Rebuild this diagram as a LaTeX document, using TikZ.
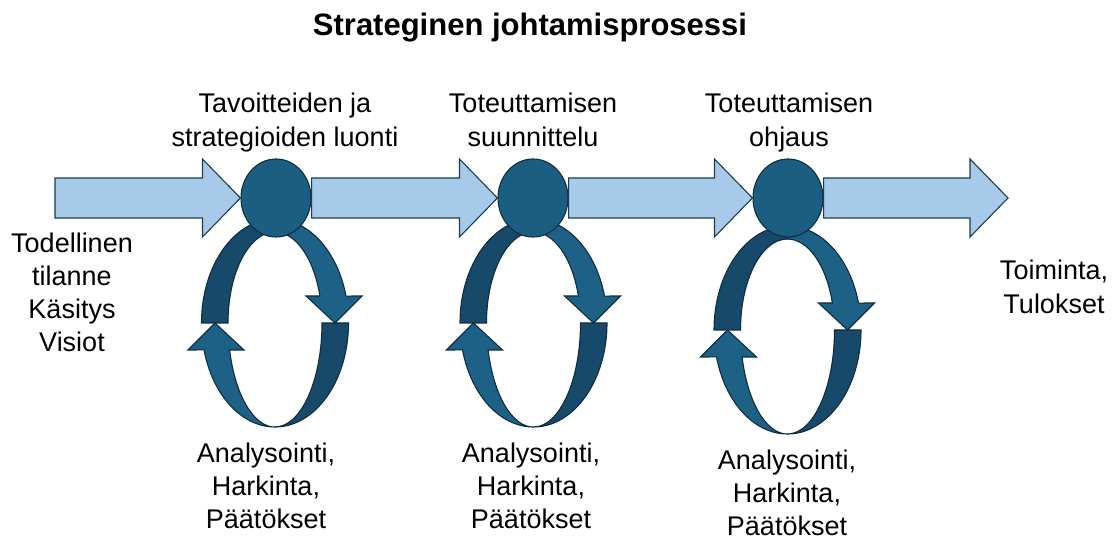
\documentclass[tikz,border=0pt]{standalone}
\usepackage{fontspec}
\setmainfont{Liberation Sans}
\usetikzlibrary{shapes.geometric,calc}

\definecolor{hubblue}{HTML}{1C5E82}
\definecolor{ringlight}{HTML}{1E6187}
\definecolor{ringdark}{HTML}{17496A}
\definecolor{ringline}{HTML}{0E2D42}
\definecolor{flowfill}{HTML}{A7CAE9}
\definecolor{flowline}{HTML}{1B3C57}

% wide arrow from one point to the tip at another (same height)
\newcommand\flowarrow[2]{%
  \path[flow] let \p1=(#1), \p2=(#2) in
    (\x1,\y1-20pt) -- (\x2-38pt,\y1-20pt) -- (\x2-38pt,\y1-39pt)
    -- (\x2,\y1) -- (\x2-38pt,\y1+39pt) -- (\x2-38pt,\y1+20pt)
    -- (\x1,\y1+20pt) -- cycle;}

\begin{document}
\begin{tikzpicture}[x=1pt,y=1pt,
    flow/.style={fill=flowfill,draw=flowline,line width=1.1pt,line join=miter},
    ring/.style={draw=ringline,line width=1.1pt,line join=miter},
    hub/.style={ellipse,fill=hubblue,draw=ringline,line width=1.1pt,
      minimum width=70pt,minimum height=78pt,inner sep=0pt},
    txt/.style={font=\fontsize{27}{33}\selectfont,align=center,
      inner sep=0pt,anchor=north}]
    \useasboundingbox (0,0) rectangle (1113,540);

    % the three feedback loops
    \foreach \cx/\cy in {275/217, 533.5/217, 787.5/210} {
        \path[ring,fill=ringdark] (\cx,\cy+104)
            arc[start angle=90,end angle=180,x radius=73.5pt,y radius=104pt]
            -- (\cx-47,\cy)
            arc[start angle=180,end angle=90,x radius=47pt,y radius=91pt] -- cycle;
        \path[ring,fill=ringdark] (\cx+73.5,\cy)
            arc[start angle=0,end angle=-90,x radius=73.5pt,y radius=104pt]
            arc[start angle=-90,end angle=0,x radius=47pt,y radius=104pt] -- cycle;
        \path[ring,fill=ringlight] (\cx,\cy+104)
            arc[start angle=90,end angle=15,x radius=73.5pt,y radius=104pt]
            -- (\cx+87,\cy+27) -- (\cx+60,\cy) -- (\cx+31,\cy+27) -- (\cx+44.9,\cy+27)
            arc[start angle=17.3,end angle=90,x radius=47pt,y radius=91pt] -- cycle;
        \path[ring,fill=ringlight] (\cx,\cy-104)
            arc[start angle=270,end angle=195,x radius=73.5pt,y radius=104pt]
            -- (\cx-87,\cy-27) -- (\cx-60,\cy) -- (\cx-31,\cy-27) -- (\cx-45.4,\cy-27)
            arc[start angle=195,end angle=270,x radius=47pt,y radius=104pt] -- cycle;
    }

    \node[hub] (h1) at (276,342) {};
    \node[hub] (h2) at (533,342) {};
    \node[hub] (h3) at (788,342) {};
    \coordinate (start) at (55,342);
    \coordinate (end) at (1008,342);

    \flowarrow{start}{h1.west}
    \flowarrow{h1.east}{h2.west}
    \flowarrow{h2.east}{h3.west}
    \flowarrow{h3.east}{end}

    \node[txt,font=\fontsize{31}{36}\selectfont\bfseries] (title) at (530,527)
        {Strateginen johtamisprosessi};
    \node[txt,font=\fontsize{27}{34}\selectfont] (goal1) at (285,447)
        {Tavoitteiden ja\\strategioiden luonti};
    \node[txt,font=\fontsize{27}{34}\selectfont] (goal2) at (533,447)
        {Toteuttamisen\\suunnittelu};
    \node[txt,font=\fontsize{27}{34}\selectfont] (goal3) at (789,447)
        {Toteuttamisen\\ohjaus};
    \node[txt] (state) at (72,307) {Todellinen\\tilanne\\Käsitys\\Visiot};
    \node[txt,font=\fontsize{27}{34}\selectfont] (result) at (1054,280) {Toiminta,\\Tulokset};
    \node[txt] (work1) at (266,97) {Analysointi,\\Harkinta,\\Päätökset};
    \node[txt] (work2) at (531,97) {Analysointi,\\Harkinta,\\Päätökset};
    \node[txt] (work3) at (787,90) {Analysointi,\\Harkinta,\\Päätökset};
\end{tikzpicture}
\end{document}
